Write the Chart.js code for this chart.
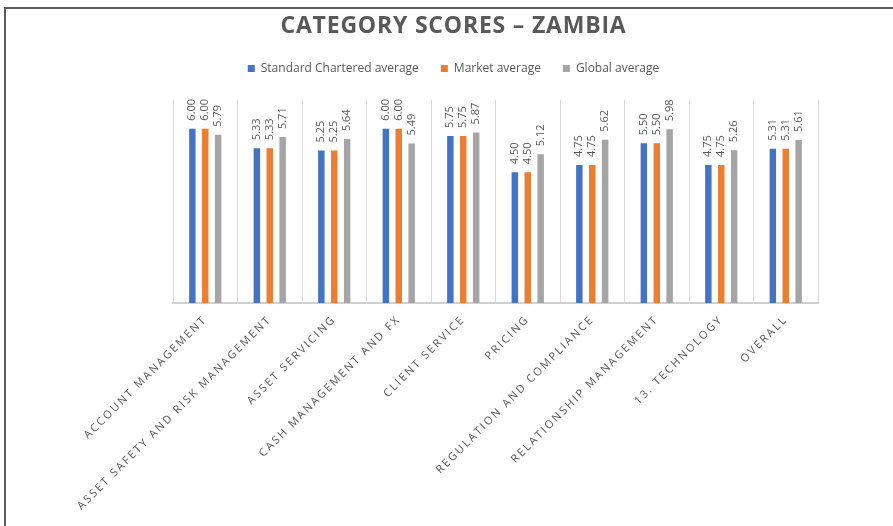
<!DOCTYPE html>
<html>
<head>
<meta charset="utf-8">
<script src="https://cdn.jsdelivr.net/npm/chart.js@4.4.1/dist/chart.umd.min.js"></script>
<style>
  html, body { margin: 0; padding: 0; background: #fff; }
  #wrap { position: relative; width: 893px; height: 526px; overflow: hidden; }
  #frame {
    position: absolute; left: 4px; top: 7px; right: -10px; bottom: -10px;
    border-left: 2px solid #5b5b5b; border-top: 2px solid #5b5b5b;
    pointer-events: none;
  }
</style>
</head>
<body>
<div id="wrap">
  <canvas id="chartScores" width="893" height="526"></canvas>
  <div id="frame"></div>
</div>
<script>
/* ---- dati ---- */
const categories = [
  "ACCOUNT MANAGEMENT",
  "ASSET SAFETY AND RISK MANAGEMENT",
  "ASSET SERVICING",
  "CASH MANAGEMENT AND FX",
  "CLIENT SERVICE",
  "PRICING",
  "REGULATION AND COMPLIANCE",
  "RELATIONSHIP MANAGEMENT",
  "13. TECHNOLOGY",
  "OVERALL"
];
const scAverage     = [6.00, 5.33, 5.25, 6.00, 5.75, 4.50, 4.75, 5.50, 4.75, 5.31];
const marketAverage = [6.00, 5.33, 5.25, 6.00, 5.75, 4.50, 4.75, 5.50, 4.75, 5.31];
const globalAverage = [5.79, 5.71, 5.64, 5.49, 5.87, 5.12, 5.62, 5.98, 5.26, 5.61];

const BLUE = "#4472C4", ORANGE = "#ED7D31", GREY = "#A5A5A5";
const TEXT = "#595959";

/* etichette valore ruotate sopra le barre */
const valueLabels = {
  id: "valueLabels",
  afterDatasetsDraw(chart) {
    const ctx = chart.ctx;
    ctx.save();
    ctx.font = "11px 'Open Sans'";
    ctx.fillStyle = TEXT;
    ctx.textAlign = "left";
    ctx.textBaseline = "middle";
    chart.data.datasets.forEach((ds, i) => {
      chart.getDatasetMeta(i).data.forEach((bar, j) => {
        ctx.save();
        ctx.translate(bar.x, bar.y - 8);
        ctx.rotate(-Math.PI / 2);
        ctx.fillText(ds.data[j].toFixed(2), 0, 0);
        ctx.restore();
      });
    });
    ctx.restore();
  }
};

/* spaziatura lettere per titolo ed etichette delle categorie */
function withSpacing(obj, fn, spacing) {
  const orig = obj[fn];
  obj[fn] = function (...args) {
    this.ctx.save();
    this.ctx.letterSpacing = spacing;
    orig.apply(this, args);
    this.ctx.restore();
  };
}
const spacedText = {
  id: "spacedText",
  beforeDraw(chart) {
    const x = chart.scales.x;
    if (!x._spaced) { withSpacing(x, "drawLabels", "2.1px"); x._spaced = true; }
    const t = chart.titleBlock;
    if (t && !t._spaced) { withSpacing(t, "draw", "0.8px"); t._spaced = true; }
  }
};

new Chart(document.getElementById("chartScores"), {
  type: "bar",
  data: {
    labels: categories,
    datasets: [
      { label: "Standard Chartered average", data: scAverage, backgroundColor: BLUE },
      { label: "Market average", data: marketAverage, backgroundColor: ORANGE },
      { label: "Global average", data: globalAverage, backgroundColor: GREY }
    ]
  },
  options: {
    responsive: false,
    animation: false,
    categoryPercentage: 0.6,
    barPercentage: 0.5,
    layout: { padding: { left: 14, right: 0, top: 0, bottom: 0 } },
    plugins: {
      title: {
        display: true,
        text: "CATEGORY SCORES – ZAMBIA",
        color: TEXT,
        font: { family: "'Open Sans'", size: 23, weight: "bold" },
        padding: { top: 13, bottom: 0 }
      },
      legend: {
        labels: {
          color: TEXT,
          font: { family: "'Open Sans'", size: 12 },
          boxWidth: 7,
          boxHeight: 7,
          padding: 22
        }
      },
      tooltip: { enabled: false }
    },
    scales: {
      x: {
        grid: { color: "#d9d9d9", lineWidth: 1, drawTicks: false },
        border: { color: "#d0d0d0", width: 2 },
        ticks: {
          color: TEXT,
          font: { family: "'Open Sans'", size: 11 },
          minRotation: 45,
          maxRotation: 45,
          autoSkip: false,
          padding: 10
        },
        afterFit(s) { s.height = 223; }
      },
      y: {
        min: 0,
        max: 7,
        grid: { display: false },
        border: { display: false },
        ticks: { display: false },
        afterFit(s) { s.width = 159; }
      },
      y2: {
        position: "right",
        grid: { display: false },
        border: { display: false },
        ticks: { display: false },
        afterFit(s) { s.width = 75; }
      },
      xTop: {
        type: "linear",
        position: "top",
        grid: { display: false },
        border: { display: false },
        ticks: { display: false },
        afterFit(s) { s.height = 15; }
      }
    }
  },
  plugins: [valueLabels, spacedText]
});
</script>
</body>
</html>
